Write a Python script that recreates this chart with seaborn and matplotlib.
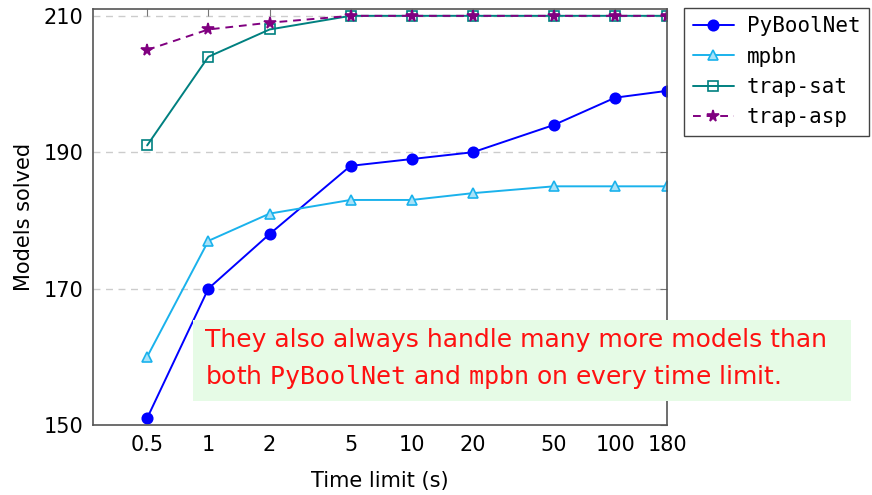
import pandas as pd
import matplotlib.pyplot as plt
import seaborn as sns
from matplotlib.patches import Rectangle
from matplotlib.ticker import NullLocator

sns.set_style("white")
plt.rcParams['font.family'] = ['DejaVu Sans']
plt.rcParams['mathtext.fontset'] = 'dejavusans'
plt.rcParams['text.color'] = 'black'
plt.rcParams['axes.labelcolor'] = 'black'
plt.rcParams['xtick.color'] = 'black'
plt.rcParams['ytick.color'] = 'black'

# data
time_limits = [0.5, 1, 2, 5, 10, 20, 50, 100, 180]
time_labels = ["0.5", "1", "2", "5", "10", "20", "50", "100", "180"]
pyboolnet = [151, 170, 178, 188, 189, 190, 194, 198, 199]
mpbn = [160, 177, 181, 183, 183, 184, 185, 185, 185]
trap_sat = [191, 204, 208, 210, 210, 210, 210, 210, 210]
trap_asp = [205, 208, 209, 210, 210, 210, 210, 210, 210]
y_ticks = [150, 170, 190, 210]

series = [
    # name, values, color, marker, face, linestyle, size
    ("PyBoolNet", pyboolnet, "#0000ff", "o", "#0000ff", "-", 7.5),
    ("mpbn", mpbn, "#1ab2ec", "^", "#a8e2f8", "-", 6.5),
    ("trap-sat", trap_sat, "#008080", "s", "none", "-", 7),
    ("trap-asp", trap_asp, "#800080", "*", "#800080", (0, (4, 3)), 8.5),
]

fig = plt.figure(figsize=(8.72, 4.95), dpi=100)
ax = fig.add_axes([0.1067, 0.1414, 0.6583, 0.8404])

for name, vals, col, mk, face, ls, ms in series:
    df = pd.DataFrame({"t": time_limits, "n": vals})
    sns.lineplot(data=df, x="t", y="n", ax=ax, color=col, linewidth=1.4,
                 linestyle=ls, marker=mk, markersize=ms,
                 markerfacecolor=face, markeredgecolor=col,
                 markeredgewidth=1.2, label=name)

ax.set_xscale("log")
ax.set_xlim(0.271, 180)
ax.set_ylim(150, 211)
ax.set_xticks(time_limits, labels=time_labels)
ax.xaxis.set_minor_locator(NullLocator())
ax.set_yticks(y_ticks)
for y in y_ticks[1:]:
    ax.axhline(y, color="#cccccc", linestyle=(0, (5, 4)), linewidth=1, zorder=0)

ax.tick_params(direction="in", top=True, right=True, length=5, width=0.8,
               color="#777777", labelsize=15, pad=7)
for sp in ax.spines.values():
    sp.set_color("#555555")
    sp.set_linewidth(1.2)

ax.set_xlabel("Time limit (s)", fontsize=15, labelpad=12)
ax.set_ylabel("Models solved", fontsize=15, labelpad=7)

leg = ax.legend(loc="upper left", bbox_to_anchor=(1.03, 1.003), borderaxespad=0,
                fancybox=False, edgecolor="#444444", framealpha=1,
                prop={"family": "DejaVu Sans Mono", "size": 15},
                handlelength=2.0, handletextpad=0.6, labelspacing=0.5,
                borderpad=0.4)
leg.get_frame().set_linewidth(1.0)

# highlighted remark
fig.patches.append(Rectangle((193 / 872, 1 - 401 / 495), (851 - 193) / 872,
                             (401 - 320) / 495, transform=fig.transFigure,
                             facecolor="#e6fbe6", edgecolor="none", zorder=5))
fig.text(205 / 872, 1 - 340 / 495,
         "They also always handle many more models than",
         color="#ff1010", fontsize=18, va="center", zorder=6)
fig.text(205 / 872, 1 - 377 / 495,
         r"both $\mathtt{PyBoolNet}$ and $\mathtt{mpbn}$ on every time limit.",
         color="#ff1010", fontsize=18, va="center", zorder=6)

fig.savefig("out.png", dpi=100)
